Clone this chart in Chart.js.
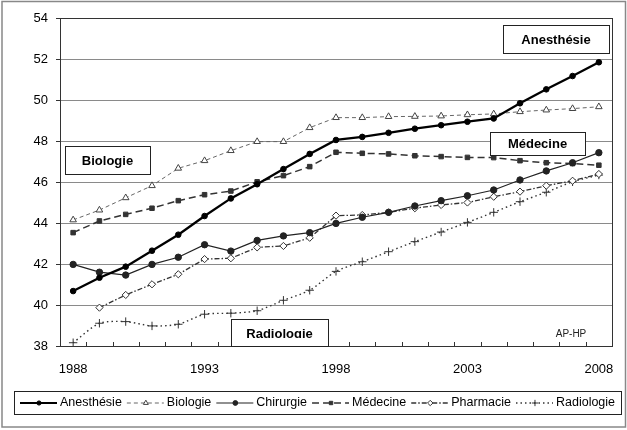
<!DOCTYPE html>
<html lang="fr">
<head>
  <meta charset="UTF-8" />
  <title>Evolution de l'âge moyen par discipline - AP-HP</title>
  <style>
    html, body { margin: 0; padding: 0; background: #fff; }
    #wrap { width: 627px; height: 430px; position: relative; }
  </style>
</head>
<body>
<div id="wrap"><canvas id="chart"></canvas></div>

<script src="https://cdn.jsdelivr.net/npm/chart.js"></script>
<script>
// values
const years = ['1988', '1989', '1990', '1991', '1992', '1993', '1994', '1995', '1996', '1997', '1998',
               '1999', '2000', '2001', '2002', '2003', '2004', '2005', '2006', '2007', '2008'];
const anesthesie = [40.68, 41.33, 41.87, 42.65, 43.43, 44.34, 45.2, 45.89, 46.63, 47.37, 48.05,
                    48.2, 48.4, 48.6, 48.77, 48.94, 49.1, 49.84, 50.52, 51.17, 51.84];
const biologie = [44.15, 44.63, 45.23, 45.82, 46.67, 47.04, 47.53, 47.97, 47.97, 48.65, 49.14,
                  49.14, 49.19, 49.2, 49.22, 49.28, 49.32, 49.43, 49.51, 49.58, 49.67];
const chirurgie = [41.98, 41.6, 41.46, 41.98, 42.33, 42.94, 42.63, 43.15, 43.37, 43.53, 43.98,
                   44.28, 44.52, 44.83, 45.09, 45.33, 45.61, 46.1, 46.54, 46.94, 47.43];
const medecine = [43.53, 44.1, 44.42, 44.72, 45.09, 45.38, 45.56, 46.01, 46.31, 46.75, 47.45,
                  47.4, 47.37, 47.28, 47.24, 47.2, 47.19, 47.04, 46.94, 46.9, 46.82];
const pharmacie = [null, 39.87, 40.49, 41.01, 41.5, 42.24, 42.28, 42.81, 42.88, 43.28, 44.36,
                   44.39, 44.52, 44.72, 44.88, 45.0, 45.28, 45.53, 45.82, 46.06, 46.39];
const radiologie = [38.16, 39.11, 39.19, 38.98, 39.06, 39.55, 39.6, 39.72, 40.23, 40.72, 41.64,
                    42.11, 42.6, 43.09, 43.56, 44.03, 44.52, 45.04, 45.5, 46.01, 46.34];
const yTicks = { min: 38, max: 54, step: 2 };
const labelEvery = 5;

// text boxes drawn on the plot
const boxes = [
  { text: 'Anesthésie', x: 503, y: 25, w: 106, h: 28 },
  { text: 'Biologie', x: 65, y: 146, w: 85, h: 28 },
  { text: 'Médecine', x: 490, y: 132, w: 95, h: 23 },
  { text: 'Radiologie', x: 231, y: 319, w: 97, h: 27, textY: 334, clipH: 19 }
];

const FONT = "'Liberation Sans', Arial, sans-serif";
Chart.defaults.font.family = FONT;
Chart.defaults.color = '#000';

const ds = (label, data, o) => Object.assign({
  label, data,
  borderColor: '#222', backgroundColor: '#222',
  pointBorderColor: '#222', pointBorderWidth: 1,
  borderWidth: 1.2, pointRadius: 3, pointHoverRadius: 3,
  tension: 0, spanGaps: false
}, o);

const datasets = [
  ds('Anesthésie', anesthesie, { borderColor: '#000', backgroundColor: '#000', pointBackgroundColor: '#000',
    pointBorderColor: '#000', borderWidth: 2.3, pointStyle: 'circle', pointRadius: 2.8 }),
  ds('Biologie', biologie, { borderColor: '#666', borderWidth: 1, borderDash: [4, 3], pointStyle: 'triangle',
    pointBackgroundColor: '#fff', pointBorderColor: '#444', pointRadius: 3.8 }),
  ds('Chirurgie', chirurgie, { pointStyle: 'circle', pointBackgroundColor: '#222', pointRadius: 3.2 }),
  ds('Médecine', medecine, { borderColor: '#333', borderWidth: 1.5, borderDash: [7, 4], pointStyle: 'rect',
    pointBackgroundColor: '#333', pointBorderColor: '#333', pointRadius: 3.2 }),
  ds('Pharmacie', pharmacie, { borderColor: '#333', borderWidth: 1.3, borderDash: [5, 2, 1.5, 2], pointStyle: 'rectRot',
    pointBackgroundColor: '#fff', pointBorderColor: '#333', pointRadius: 3.6 }),
  ds('Radiologie', radiologie, { borderColor: '#333', borderWidth: 1.4, borderDash: [1.5, 3], pointStyle: 'cross',
    pointBorderColor: '#333', pointRadius: 4.2, tension: 0.25 })
];

const decor = {
  id: 'decor',
  afterDatasetsDraw(chart) {
    const { ctx, chartArea: a, scales: { x } } = chart;
    ctx.save();
    // inner tick marks between categories
    ctx.strokeStyle = '#333';
    ctx.lineWidth = 1;
    ctx.beginPath();
    for (let i = 0; i <= years.length; i++) {
      const px = Math.round(x.getPixelForValue(i - 0.5)) + 0.5;
      ctx.moveTo(px, a.bottom);
      ctx.lineTo(px, a.bottom - 4);
    }
    ctx.stroke();
    // plot frame
    ctx.strokeStyle = '#333';
    ctx.strokeRect(a.left + 0.5, a.top + 0.5, a.right - a.left, a.bottom - a.top);

    // label boxes
    boxes.forEach(b => {
      ctx.fillStyle = '#fff';
      ctx.fillRect(b.x, b.y, b.w, b.h);
      ctx.strokeStyle = '#222';
      ctx.lineWidth = 1;
      ctx.strokeRect(b.x + 0.5, b.y + 0.5, b.w, b.h);
      ctx.save();
      ctx.beginPath();
      ctx.rect(b.x + 1, b.y + 1, b.w - 1, (b.clipH || b.h) - 1);
      ctx.clip();
      ctx.fillStyle = '#000';
      ctx.font = 'bold 13px ' + FONT;
      ctx.textAlign = 'center';
      ctx.textBaseline = 'middle';
      ctx.fillText(b.text, b.x + b.w / 2, b.textY || (b.y + b.h / 2 + 1));
      ctx.restore();
    });

    ctx.fillStyle = '#222';
    ctx.font = '10px ' + FONT;
    ctx.textAlign = 'center';
    ctx.textBaseline = 'middle';
    ctx.fillText('AP-HP', 571, 334);
    ctx.restore();
  },
  afterDraw(chart) {
    const { ctx } = chart;
    ctx.save();
    // outer frame
    ctx.strokeStyle = '#888';
    ctx.lineWidth = 1.5;
    ctx.strokeRect(2, 1.5, 623.5, 425.5);

    // legend
    ctx.strokeStyle = '#222';
    ctx.lineWidth = 1;
    ctx.strokeRect(14.5, 391.5, 607, 23);
    ctx.font = '12.5px ' + FONT;
    ctx.textBaseline = 'middle';
    ctx.textAlign = 'left';
    const cy = 403;
    let lx = 20;
    chart.data.datasets.forEach(d => {
      ctx.save();
      ctx.strokeStyle = d.borderColor;
      ctx.lineWidth = Math.min(d.borderWidth, 2);
      ctx.setLineDash(d.borderDash || []);
      ctx.beginPath();
      ctx.moveTo(lx, cy);
      ctx.lineTo(lx + 37, cy);
      ctx.stroke();
      ctx.setLineDash([]);
      ctx.fillStyle = d.pointBackgroundColor || '#fff';
      ctx.strokeStyle = d.pointBorderColor;
      ctx.lineWidth = 1;
      Chart.helpers.drawPoint(ctx, { pointStyle: d.pointStyle, radius: d.pointRadius * 0.75, rotation: 0, borderWidth: 1 }, lx + 19, cy);
      ctx.restore();
      ctx.fillStyle = '#000';
      ctx.fillText(d.label, lx + 40, cy);
      lx += 40 + ctx.measureText(d.label).width + 5;
    });
    ctx.restore();
  }
};

new Chart(document.getElementById('chart'), {
  type: 'line',
  data: { labels: years, datasets },
  options: {
    responsive: true,
    maintainAspectRatio: false,
    animation: false,
    devicePixelRatio: 1,
    layout: { padding: { top: 18, right: 15, bottom: 0, left: 0 } },
    plugins: { legend: { display: false }, tooltip: { enabled: false } },
    scales: {
      x: {
        type: 'category',
        offset: true,
        grid: { display: false },
        border: { display: false },
        ticks: {
          autoSkip: false, maxRotation: 0, padding: 8,
          font: { size: 13 },
          callback: (v, i) => i % labelEvery === 0 ? years[i] : ''
        },
        afterFit: s => { s.height = 84; }
      },
      y: {
        min: yTicks.min, max: yTicks.max,
        grid: { color: '#8a8a8a', lineWidth: 1, tickLength: 4, tickColor: '#333' },
        border: { display: false },
        ticks: { stepSize: yTicks.step, padding: 8, font: { size: 13 } },
        afterFit: s => { s.height = s.height; s.width = 60; }
      }
    }
  },
  plugins: [decor]
});
</script>
</body>
</html>
